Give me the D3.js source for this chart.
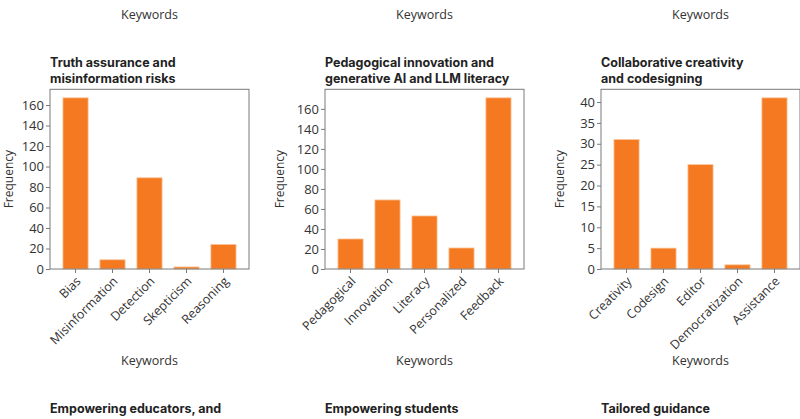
<!DOCTYPE html>
<html>
<head>
<meta charset="utf-8">
<script src="https://cdn.jsdelivr.net/npm/d3@7"></script>
<style>
  body { margin: 0; background: #fff; }
  svg { display: block; font-family: "Open Sans", sans-serif; }
</style>
</head>
<body>
<svg id="chart" width="800" height="419"></svg>
<script>
// Keyword frequencies, one set of arrays per panel
const truthTitle = ['Truth assurance and', 'misinformation risks'];
const truthKeywords = ['Bias', 'Misinformation', 'Detection', 'Skepticism', 'Reasoning'];
const truthValues = [167, 9, 89, 2, 24];

const pedagogyTitle = ['Pedagogical innovation and', 'generative AI and LLM literacy'];
const pedagogyKeywords = ['Pedagogical', 'Innovation', 'Literacy', 'Personalized', 'Feedback'];
const pedagogyValues = [30, 69, 53, 21, 171];

const creativityTitle = ['Collaborative creativity', 'and codesigning'];
const creativityKeywords = ['Creativity', 'Codesign', 'Editor', 'Democratization', 'Assistance'];
const creativityValues = [31, 5, 25, 1, 41];

// Titles of the next row of panels, cut off by the bottom edge
const nextRowTitles = ['Empowering educators, and', 'Empowering students', 'Tailored guidance'];

const panels = [
  { title: truthTitle, keywords: truthKeywords, values: truthValues },
  { title: pedagogyTitle, keywords: pedagogyKeywords, values: pedagogyValues },
  { title: creativityTitle, keywords: creativityKeywords, values: creativityValues }
];

const frameLefts = [50, 325, 601];
const yLabelOffsets = [-37, -41, -37];
const frameWidth = 199;
const frameTop = 89.3;
const frameBottom = 269;
const orange = '#f47920';
const frameGray = '#7a7a7a';
const textColor = '#333';
const labelFont = '"Open Sans", sans-serif';
const titleFont = 'Inter, "Open Sans", sans-serif';

const svg = d3.select('#chart');

panels.forEach((panel, i) => {
  const left = frameLefts[i];
  const g = svg.append('g').attr('transform', `translate(${left},0)`);

  const x = d3.scaleBand()
    .domain(panel.keywords)
    .range([0, frameWidth])
    .paddingInner(0.32)
    .paddingOuter(0.35);
  // 5% headroom above the tallest bar
  const y = d3.scaleLinear()
    .domain([0, d3.max(panel.values) * 1.05])
    .range([frameBottom, frameTop]);

  // Keywords label of the row above (cut off)
  g.append('text')
    .attr('x', frameWidth / 2)
    .attr('y', 19)
    .attr('text-anchor', 'middle')
    .attr('font-family', labelFont)
    .attr('font-size', 12.5)
    .attr('fill', textColor)
    .text('Keywords');

  // Title
  g.append('text')
    .attr('font-family', titleFont)
    .attr('font-size', 12.5)
    .attr('font-weight', 700)
    .attr('fill', '#222')
    .selectAll('tspan')
    .data(panel.title)
    .join('tspan')
    .attr('x', 0)
    .attr('y', (d, j) => 67 + j * 16)
    .text(d => d);

  // Bars
  g.selectAll('.bar')
    .data(panel.keywords.map((k, j) => ({ k, v: panel.values[j] })))
    .join('rect')
    .attr('class', 'bar')
    .attr('x', d => x(d.k))
    .attr('width', x.bandwidth())
    .attr('y', d => y(d.v))
    .attr('height', d => frameBottom - y(d.v))
    .attr('fill', orange)
    .attr('stroke', '#fbc49a')
    .attr('stroke-width', 0.8);

  // Frame
  g.append('rect')
    .attr('x', 0)
    .attr('y', frameTop)
    .attr('width', frameWidth)
    .attr('height', frameBottom - frameTop)
    .attr('fill', 'none')
    .attr('stroke', frameGray)
    .attr('stroke-width', 1);

  // Y axis
  const yAxis = g.append('g')
    .call(d3.axisLeft(y).ticks(10).tickSize(4).tickPadding(2))
    .attr('font-family', labelFont);
  yAxis.select('.domain').remove();
  yAxis.selectAll('.tick line').attr('stroke', frameGray);
  yAxis.selectAll('.tick text')
    .attr('font-size', 13)
    .attr('fill', textColor);

  // X axis
  const xAxis = g.append('g')
    .attr('transform', `translate(0,${frameBottom})`)
    .call(d3.axisBottom(x).tickSize(4).tickPadding(2))
    .attr('font-family', labelFont);
  xAxis.select('.domain').remove();
  xAxis.selectAll('.tick line').attr('stroke', frameGray);
  xAxis.selectAll('.tick text')
    .attr('font-size', 12.5)
    .attr('fill', textColor)
    .attr('text-anchor', 'end')
    .attr('dy', null)
    .attr('y', 0)
    .attr('transform', 'translate(6,13) rotate(-45)');

  // Axis labels
  g.append('text')
    .attr('transform', `translate(${yLabelOffsets[i]},${(frameTop + frameBottom) / 2}) rotate(-90)`)
    .attr('text-anchor', 'middle')
    .attr('font-family', labelFont)
    .attr('font-size', 12)
    .attr('fill', textColor)
    .text('Frequency');

  g.append('text')
    .attr('x', frameWidth / 2)
    .attr('y', 365)
    .attr('text-anchor', 'middle')
    .attr('font-family', labelFont)
    .attr('font-size', 12.5)
    .attr('fill', textColor)
    .text('Keywords');

  // Title of the panel below (cut off)
  g.append('text')
    .attr('x', 0)
    .attr('y', 413)
    .attr('font-family', titleFont)
    .attr('font-size', 12.5)
    .attr('font-weight', 700)
    .attr('fill', '#222')
    .text(nextRowTitles[i]);
});
</script>
</body>
</html>
